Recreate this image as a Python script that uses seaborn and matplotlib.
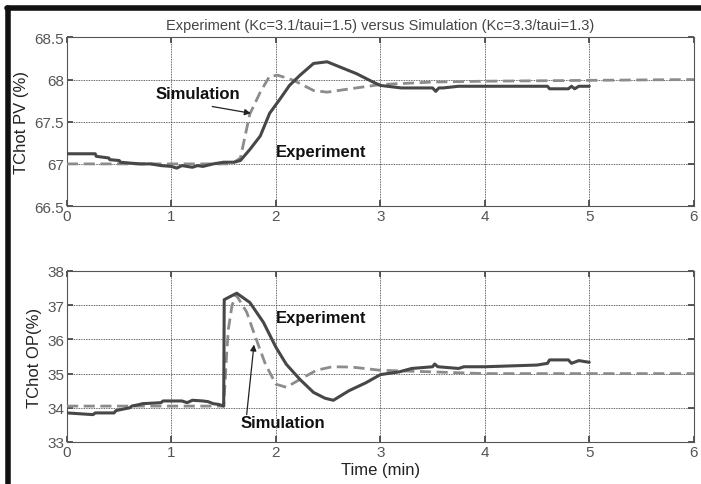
import numpy as np
import pandas as pd
import matplotlib
matplotlib.use("Agg")
import matplotlib.pyplot as plt
import seaborn as sns

# ---- data ----
pv_exp_t = [0.0, 0.27, 0.28, 0.4, 0.41, 0.5, 0.51, 0.6, 0.7, 0.8, 0.9, 1.0, 1.05, 1.1, 1.2, 1.25,
            1.3, 1.4, 1.5, 1.6, 1.66, 1.75, 1.85, 1.94, 2.04, 2.13, 2.23, 2.36, 2.49, 2.61, 2.77,
            2.93, 3.0, 3.2, 3.5, 3.53, 3.56, 3.6, 3.75, 3.8, 4.0, 4.3, 4.6, 4.62, 4.8, 4.83, 4.86,
            4.9, 5.0]
pv_exp_v = [67.12, 67.12, 67.09, 67.07, 67.05, 67.04, 67.02, 67.01, 67.0, 67.0, 66.98, 66.97,
            66.95, 66.98, 66.96, 66.98, 66.97, 67.0, 67.02, 67.02, 67.04, 67.17, 67.33, 67.6,
            67.77, 67.93, 68.05, 68.19, 68.21, 68.15, 68.07, 67.97, 67.93, 67.9, 67.9, 67.86,
            67.9, 67.9, 67.92, 67.92, 67.92, 67.92, 67.92, 67.89, 67.89, 67.92, 67.89, 67.92,
            67.92]
pv_sim_t = [0.0, 1.55, 1.6, 1.66, 1.75, 1.85, 1.94, 2.02, 2.17, 2.36, 2.49, 2.71, 3.0, 3.5, 4.0,
            5.0, 6.0]
pv_sim_v = [67.0, 67.0, 67.02, 67.07, 67.59, 67.85, 68.04, 68.05, 67.99, 67.87, 67.85, 67.89,
            67.94, 67.97, 67.98, 67.99, 68.0]

op_exp_t = [0.0, 0.25, 0.27, 0.45, 0.47, 0.6, 0.62, 0.7, 0.72, 0.9, 0.92, 1.0, 1.1, 1.15, 1.2,
            1.3, 1.35, 1.4, 1.45, 1.5, 1.505, 1.56, 1.625, 1.75, 1.88, 2.0, 2.1, 2.23, 2.36, 2.47,
            2.55, 2.7, 2.86, 3.0, 3.18, 3.3, 3.5, 3.52, 3.55, 3.75, 3.8, 4.0, 4.5, 4.6, 4.62, 4.8,
            4.83, 4.9, 5.0]
op_exp_v = [33.85, 33.8, 33.85, 33.85, 33.92, 34.0, 34.05, 34.1, 34.12, 34.15, 34.2, 34.2, 34.2,
            34.15, 34.22, 34.2, 34.18, 34.12, 34.1, 34.05, 37.16, 37.25, 37.35, 37.08, 36.5,
            35.77, 35.27, 34.83, 34.45, 34.28, 34.22, 34.5, 34.73, 34.97, 35.05, 35.15, 35.2,
            35.28, 35.2, 35.15, 35.2, 35.2, 35.25, 35.3, 35.4, 35.4, 35.3, 35.38, 35.33]
op_sim_t = [0.0, 1.5, 1.53, 1.545, 1.58, 1.62, 1.72, 1.8, 1.9, 2.0, 2.1, 2.23, 2.39, 2.54, 2.73,
            2.99, 3.5, 4.0, 6.0]
op_sim_v = [34.05, 34.05, 35.65, 36.3, 37.0, 37.3, 36.8, 36.1, 35.27, 34.69, 34.6, 34.83, 35.1,
            35.2, 35.19, 35.1, 35.05, 35.0, 35.0]

title = "Experiment (Kc=3.1/taui=1.5) versus Simulation (Kc=3.3/taui=1.3)"
xticks = [0, 1, 2, 3, 4, 5, 6]
pv_ticks = [66.5, 67, 67.5, 68, 68.5]
pv_labels = ["66.5", "67", "67.5", "68", "68.5"]
op_ticks = [33, 34, 35, 36, 37, 38]

sns.set_theme(style="white")
plt.rcParams["font.family"] = ["Liberation Sans", "DejaVu Sans"]

fig = plt.figure(figsize=(7.01, 4.85), dpi=100)
ax1 = fig.add_axes([0.0956, 0.573, 0.894, 0.348])
ax2 = fig.add_axes([0.0956, 0.0866, 0.894, 0.3526])

exp_color = "#474747"
sim_color = "#8c8c8c"
tick_color = "#555555"

def panel(ax, et, ev, st, sv):
    de = pd.DataFrame({"t": et, "v": ev})
    ds = pd.DataFrame({"t": st, "v": sv})
    sns.lineplot(data=ds, x="t", y="v", ax=ax, color=sim_color, lw=2.0,
                 linestyle=(0, (4, 2)), zorder=3)
    sns.lineplot(data=de, x="t", y="v", ax=ax, color=exp_color, lw=2.2, zorder=4)
    ax.set_xlim(0, 6)
    ax.set_xticks(xticks)
    ax.set_xlabel("")
    ax.grid(True, color="#333333", linestyle=(0, (1, 1)), linewidth=0.6)
    ax.tick_params(direction="in", length=4, color="#444444", labelcolor=tick_color,
                   labelsize=11, top=True, right=True, bottom=True, left=True, pad=2)
    for s in ax.spines.values():
        s.set_color("#555555")
        s.set_linewidth(0.8)

panel(ax1, pv_exp_t, pv_exp_v, pv_sim_t, pv_sim_v)
ax1.set_ylim(66.5, 68.5)
ax1.set_yticks(pv_ticks)
ax1.set_yticklabels(pv_labels)
ax1.set_ylabel("TChot PV (%)", fontsize=12, color="#222222", labelpad=4)
ax1.set_title(title, fontsize=10.5, color="#444444", pad=6)

panel(ax2, op_exp_t, op_exp_v, op_sim_t, op_sim_v)
ax2.set_ylim(33, 38)
ax2.set_yticks(op_ticks)
ax2.set_ylabel("TChot OP(%)", fontsize=12, color="#222222", labelpad=4)
ax2.set_xlabel("Time (min)", fontsize=12, color="#222222", labelpad=2)

arrow = dict(arrowstyle="-|>", color="#222222", lw=0.9, mutation_scale=9,
             shrinkA=0, shrinkB=0)

ax1.text(1.25, 67.83, "Simulation", fontsize=12, fontweight="bold", color="#111111",
         ha="center", va="center")
ax1.annotate("", xy=(1.76, 67.6), xytext=(1.39, 67.68), arrowprops=arrow)
ax1.text(2.0, 67.15, "Experiment", fontsize=12, fontweight="bold", color="#111111",
         ha="left", va="center")

ax2.text(2.0, 36.65, "Experiment", fontsize=12, fontweight="bold", color="#111111",
         ha="left", va="center")
ax2.text(1.66, 33.58, "Simulation", fontsize=12, fontweight="bold", color="#111111",
         ha="left", va="center")
ax2.annotate("", xy=(1.79, 35.85), xytext=(1.72, 33.8), arrowprops=arrow)

# outer dark frame of the screenshot
fig.add_artist(plt.Line2D([0.012, 0.012], [0.0, 0.982], transform=fig.transFigure,
                          color="#111111", lw=4))
fig.add_artist(plt.Line2D([0.010, 1.0], [0.982, 0.982], transform=fig.transFigure,
                          color="#111111", lw=4))

fig.savefig("out.png", dpi=100)
